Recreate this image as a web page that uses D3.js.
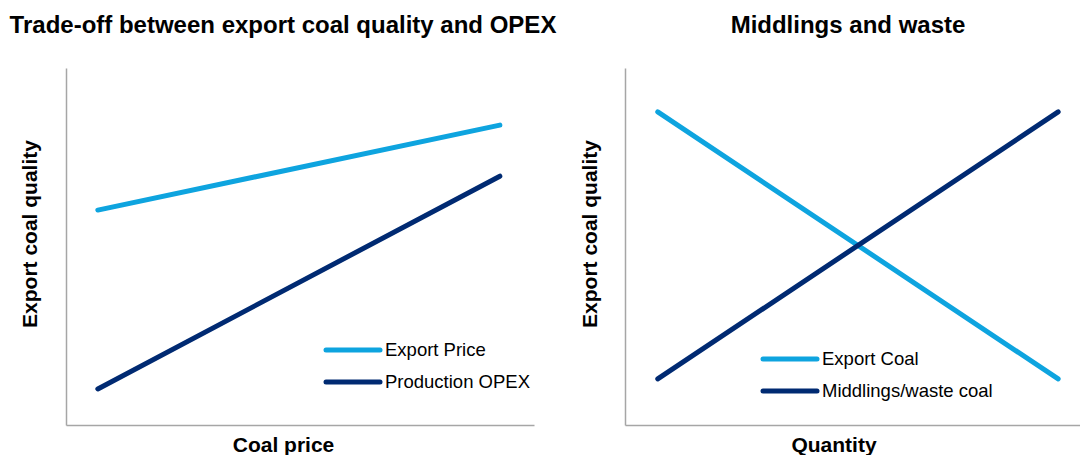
<!DOCTYPE html>
<html>
<head>
<meta charset="utf-8">
<script src="https://cdn.jsdelivr.net/npm/d3@7"></script>
<style>
  body { margin: 0; background: #fff; }
  svg text { font-family: "Liberation Sans", Arial, sans-serif; fill: #000; }
</style>
</head>
<body>
<svg id="chart" width="1080" height="455"></svg>
<script>
// Left panel: trade-off between quality and OPEX
const leftX = [0.068, 0.927]
const exportPrice = [60.2, 84.0]
const productionOpex = [10.1, 69.7]

// Right panel: middlings and waste
const rightX = [0.072, 0.952]
const exportCoal = [87.7, 12.9]
const middlingsWaste = [12.9, 87.7]

const titles = ["Trade-off between export coal quality and OPEX", "Middlings and waste"]
const yLabels = ["Export coal quality", "Export coal quality"]
const xLabels = ["Coal price", "Quantity"]

const lightBlue = "#0ea4df"
const navy = "#002a72"

const svg = d3.select("#chart")

const panels = [
  {left: 66, right: 534, title: titles[0], titleX: 283, yLabelX: 37, yLabel: yLabels[0],
   xLabel: xLabels[0], xLabelX: 283.5,
   xs: leftX,
   series: [{name: "Export Price", values: exportPrice, color: lightBlue},
            {name: "Production OPEX", values: productionOpex, color: navy}],
   legend: {x: 326, y: 350}},
  {left: 625, right: 1080, title: titles[1], titleX: 848, yLabelX: 597, yLabel: yLabels[1],
   xLabel: xLabels[1], xLabelX: 834,
   xs: rightX,
   series: [{name: "Export Coal", values: exportCoal, color: lightBlue},
            {name: "Middlings/waste coal", values: middlingsWaste, color: navy}],
   legend: {x: 763, y: 359}}
]

const plotTop = 68, plotBottom = 425

panels.forEach(p => {
  const xScale = d3.scaleLinear().domain([0, 1]).range([p.left, p.right])
  const yScale = d3.scaleLinear().domain([0, 100]).range([plotBottom, plotTop])

  // axes as plain lines, no ticks
  svg.append("g")
     .attr("transform", `translate(0, ${plotBottom})`)
     .call(d3.axisBottom(xScale).ticks(0).tickSize(0).tickSizeOuter(0))
     .call(g => g.select(".domain").attr("stroke", "#a6a6a6").attr("stroke-width", 1.5))
  svg.append("g")
     .attr("transform", `translate(${p.left}, 0)`)
     .call(d3.axisLeft(yScale).ticks(0).tickSize(0).tickSizeOuter(0))
     .call(g => g.select(".domain").attr("stroke", "#a6a6a6").attr("stroke-width", 1.5))

  const line = d3.line()
                 .x((d, j) => xScale(p.xs[j]))
                 .y(d => yScale(d))

  p.series.forEach(s => {
    svg.append("path")
       .datum(s.values)
       .attr("d", line)
       .attr("fill", "none")
       .attr("stroke", s.color)
       .attr("stroke-width", 5)
       .attr("stroke-linecap", "round")
  })

  // legend
  const lg = svg.append("g").attr("transform", `translate(${p.legend.x}, ${p.legend.y})`)
  p.series.forEach((s, j) => {
    lg.append("line")
      .attr("x1", 0).attr("x2", 54)
      .attr("y1", j * 32).attr("y2", j * 32)
      .attr("stroke", s.color)
      .attr("stroke-width", 5)
      .attr("stroke-linecap", "round")
    lg.append("text")
      .attr("x", 59).attr("y", j * 32 + 6)
      .style("font-size", "18.5px")
      .text(s.name)
  })

  svg.append("text")
     .attr("x", p.titleX).attr("y", 33)
     .attr("text-anchor", "middle")
     .style("font-size", "24px").style("font-weight", "bold")
     .text(p.title)

  svg.append("text")
     .attr("transform", `translate(${p.yLabelX}, 234) rotate(-90)`)
     .attr("text-anchor", "middle")
     .style("font-size", "21px").style("font-weight", "bold")
     .text(p.yLabel)

  svg.append("text")
     .attr("x", p.xLabelX).attr("y", 452)
     .attr("text-anchor", "middle")
     .style("font-size", "21px").style("font-weight", "bold")
     .text(p.xLabel)
})
</script>
</body>
</html>
